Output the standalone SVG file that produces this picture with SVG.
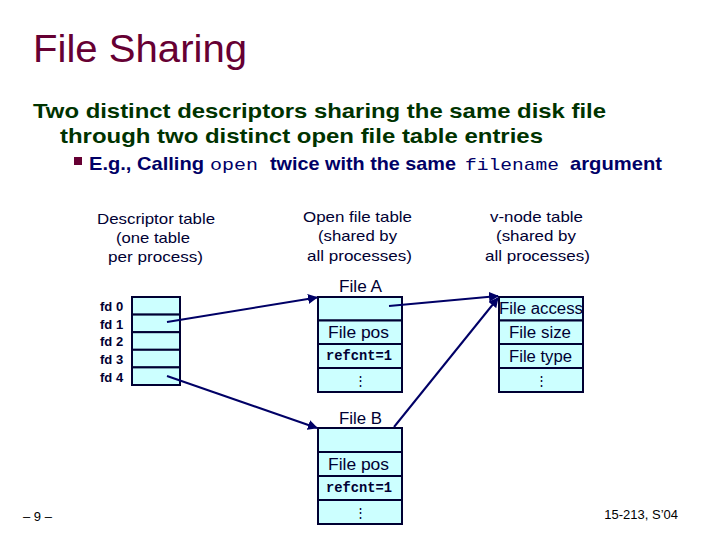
<svg xmlns="http://www.w3.org/2000/svg" width="720" height="540" viewBox="0 0 720 540">
<style>
.sans{font-family:"Liberation Sans",Arial,sans-serif}
.mono{font-family:"Liberation Mono","Courier New",monospace}
.cell{fill:#CCFFFF;stroke:#000033;stroke-width:2}
.lbl{font-family:"Liberation Sans",Arial,sans-serif;font-size:15px;fill:#000033}
.ct{font-family:"Liberation Sans",Arial,sans-serif;font-size:16px;fill:#000033}
.dots{font-family:"Liberation Sans",Arial,sans-serif;font-size:13px;fill:#000033;text-anchor:middle}
.rc{font-family:"Liberation Mono","Courier New",monospace;font-size:14px;font-weight:bold;fill:#000033}
.fd{font-family:"Liberation Sans",Arial,sans-serif;font-size:13px;font-weight:bold;fill:#000033}
.bl{font-family:"Liberation Sans",Arial,sans-serif;font-size:19px;font-weight:bold;fill:#000066}
.blm{font-family:"Liberation Mono","Courier New",monospace;font-size:17px;fill:#000066}
.conn{stroke:#000066;stroke-width:2;fill:none;marker-end:url(#ah)}
</style>
<defs>
<marker id="ah" viewBox="0 0 10 10" refX="9" refY="5" markerWidth="5" markerHeight="5" orient="auto" markerUnits="strokeWidth">
<path d="M0,0 L10,5 L0,10 z" fill="#000066"/>
</marker>
</defs>
<rect width="720" height="540" fill="#FFFFFF"/>
<text x="33" y="62" class="sans" font-size="38" fill="#660033" textLength="214" lengthAdjust="spacingAndGlyphs">File Sharing</text>
<text x="33" y="118" class="sans" font-size="21" font-weight="bold" fill="#003300" textLength="573" lengthAdjust="spacingAndGlyphs">Two distinct descriptors sharing the same disk file</text>
<text x="60" y="143" class="sans" font-size="21" font-weight="bold" fill="#003300" textLength="483" lengthAdjust="spacingAndGlyphs">through two distinct open file table entries</text>
<rect x="74" y="157" width="8" height="8" fill="#660033"/>
<text x="89" y="170" class="bl" textLength="115" lengthAdjust="spacingAndGlyphs">E.g., Calling</text>
<text x="210" y="170" class="blm" textLength="48" lengthAdjust="spacingAndGlyphs">open</text>
<text x="270" y="170" class="bl" textLength="186" lengthAdjust="spacingAndGlyphs">twice with the same</text>
<text x="465" y="170" class="blm" textLength="94" lengthAdjust="spacingAndGlyphs">filename</text>
<text x="570" y="170" class="bl" textLength="92" lengthAdjust="spacingAndGlyphs">argument</text>

<g id="labels">
<text class="lbl" x="97" y="224" textLength="118" lengthAdjust="spacingAndGlyphs">Descriptor table</text>
<text class="lbl" x="116" y="243" textLength="74" lengthAdjust="spacingAndGlyphs">(one table</text>
<text class="lbl" x="108" y="262" textLength="95" lengthAdjust="spacingAndGlyphs">per process)</text>
<text class="lbl" x="303" y="222" textLength="109" lengthAdjust="spacingAndGlyphs">Open file table</text>
<text class="lbl" x="318" y="241" textLength="79" lengthAdjust="spacingAndGlyphs">(shared by</text>
<text class="lbl" x="307" y="261" textLength="105" lengthAdjust="spacingAndGlyphs">all processes)</text>
<text class="lbl" x="490" y="222" textLength="93" lengthAdjust="spacingAndGlyphs">v-node table</text>
<text class="lbl" x="496" y="241" textLength="80" lengthAdjust="spacingAndGlyphs">(shared by</text>
<text class="lbl" x="485" y="261" textLength="105" lengthAdjust="spacingAndGlyphs">all processes)</text>
</g>

<g id="descriptor-table">
<rect class="cell" x="132" y="297" width="48" height="17.6"/>
<rect class="cell" x="132" y="314.6" width="48" height="17.6"/>
<rect class="cell" x="132" y="332.2" width="48" height="17.6"/>
<rect class="cell" x="132" y="349.8" width="48" height="17.6"/>
<rect class="cell" x="132" y="367.4" width="48" height="17.6"/>
<text class="fd" x="100" y="311">fd 0</text>
<text class="fd" x="100" y="329">fd 1</text>
<text class="fd" x="100" y="346">fd 2</text>
<text class="fd" x="100" y="364">fd 3</text>
<text class="fd" x="100" y="382">fd 4</text>
</g>

<g id="file-a">
<text class="ct" x="339" y="292" textLength="43" lengthAdjust="spacingAndGlyphs">File A</text>
<rect class="cell" x="318" y="297" width="84" height="23.5"/>
<rect class="cell" x="318" y="320.5" width="84" height="23.5"/>
<rect class="cell" x="318" y="344" width="84" height="24"/>
<rect class="cell" x="318" y="368" width="84" height="24"/>
<text class="ct" x="328" y="338" textLength="61" lengthAdjust="spacingAndGlyphs">File pos</text>
<text class="rc" x="326" y="360" textLength="66" lengthAdjust="spacingAndGlyphs">refcnt=1</text>
<text class="dots" x="360" y="385">⋮</text>
</g>

<g id="file-b">
<text class="ct" x="339" y="424" textLength="43" lengthAdjust="spacingAndGlyphs">File B</text>
<rect class="cell" x="318" y="428" width="84" height="24"/>
<rect class="cell" x="318" y="452" width="84" height="24"/>
<rect class="cell" x="318" y="476" width="84" height="24"/>
<rect class="cell" x="318" y="500" width="84" height="24"/>
<text class="ct" x="328" y="470" textLength="61" lengthAdjust="spacingAndGlyphs">File pos</text>
<text class="rc" x="326" y="492" textLength="66" lengthAdjust="spacingAndGlyphs">refcnt=1</text>
<text class="dots" x="360" y="517">⋮</text>
</g>

<g id="vnode-table">
<rect class="cell" x="499" y="297" width="84" height="23.5"/>
<rect class="cell" x="499" y="320.5" width="84" height="23.5"/>
<rect class="cell" x="499" y="344" width="84" height="24"/>
<rect class="cell" x="499" y="368" width="84" height="24"/>
<text class="ct" x="499" y="314" textLength="84" lengthAdjust="spacingAndGlyphs">File access</text>
<text class="ct" x="509" y="338" textLength="62" lengthAdjust="spacingAndGlyphs">File size</text>
<text class="ct" x="509" y="362" textLength="63" lengthAdjust="spacingAndGlyphs">File type</text>
<text class="dots" x="541" y="385">⋮</text>
</g>

<g id="connectors">
<line class="conn" x1="167" y1="322" x2="317" y2="297.5"/>
<line class="conn" x1="167" y1="376" x2="317" y2="428"/>
<line class="conn" x1="389" y1="306" x2="498" y2="296"/>
<line class="conn" x1="394" y1="427" x2="498" y2="298"/>
</g>

<text x="23" y="521" class="sans" font-size="13" fill="#000000">– 9 –</text>
<text x="678" y="519" class="sans" font-size="13" fill="#000000" text-anchor="end">15-213, S’04</text>
</svg>
